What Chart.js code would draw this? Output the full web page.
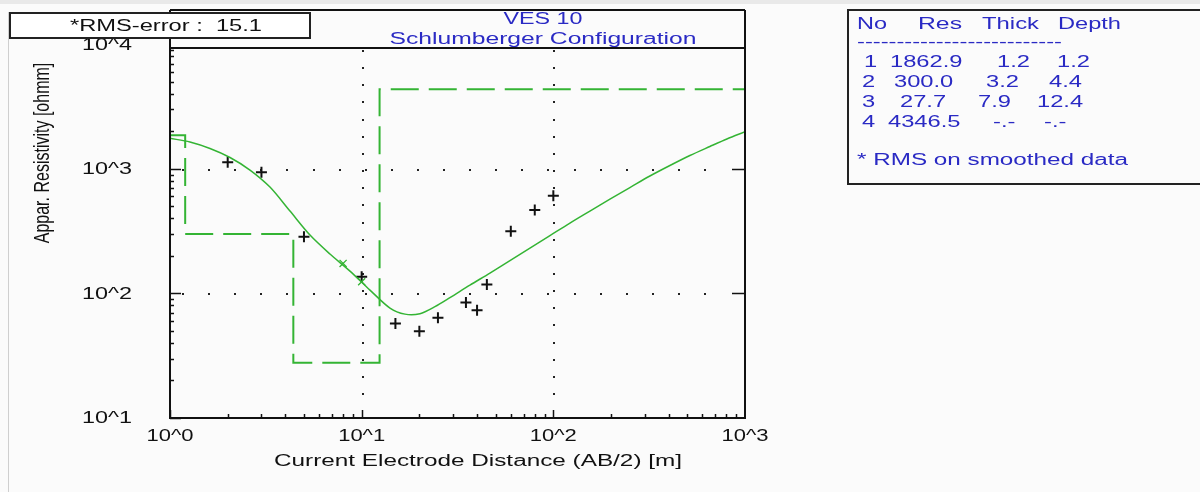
<!DOCTYPE html>
<html>
<head>
<meta charset="utf-8">
<script src="https://cdn.jsdelivr.net/npm/chart.js@4.4.1/dist/chart.umd.min.js"></script>
<style>
  html, body { margin: 0; padding: 0; background: #fbfbfb; }
  #wrap { position: absolute; left: 0; top: 0; width: 1200px; height: 492px; }
</style>
</head>
<body>
<div id="wrap"><canvas id="c" width="1200" height="492"></canvas></div>
<script>
// ---------------- DATA ----------------
const chartTitle = 'VES 10';
const chartSubtitle = 'Schlumberger Configuration';
const xAxisTitle = 'Current Electrode Distance (AB/2) [m]';
const yAxisTitle = 'Appar. Resistivity [ohmm]';
const rmsError = 15.1;

// measured apparent resistivity (black crosses)
const obsAB2 = [2, 3, 5, 10, 15, 20, 25, 35, 40, 45, 60, 80, 100];
const obsRho = [1128, 938, 285, 136, 57.4, 49.8, 63.7, 84.7, 73.4, 118, 316, 467, 608];

// smoothed data points (green x)
const smoothAB2 = [8, 10];
const smoothRho = [174, 124];

// model response curve (green line)
const modelAB2 = [1, 1.271, 1.617, 2.056, 2.614, 3.323, 4.227, 5.374, 6.833, 8.689, 11.05, 14.05, 16.82, 20.14, 24.12, 28.88, 36.72, 46.7, 59.38, 75.5, 96.0, 122.1, 155.2, 197.4, 250.9, 319.0, 405.7, 515.8, 655.9, 804.5, 1000];
const modelRho = [1758, 1642, 1456, 1233, 978, 714, 458, 294, 207, 151, 106.3, 76.2, 68.2, 68.8, 78.3, 92.5, 116.6, 145.6, 183.4, 231.1, 291.2, 367, 458, 572, 707.6, 875.5, 1063, 1279, 1511, 1736, 1986];

// layered model (table + dashed step line)
const layerNo = [1, 2, 3, 4];
const layerRes = [1862.9, 300.0, 27.7, 4346.5];
const layerThick = [1.2, 3.2, 7.9, null];
const layerDepth = [1.2, 4.4, 12.4, null];

// axes
const xMin = 1, xMax = 1000;
const yMin = 10, yMax = 9330;
const xTickValues = [1, 10, 100, 1000];
const xTickLabels = ['10^0', '10^1', '10^2', '10^3'];
const yTickValues = [10, 100, 1000, 10000];
const yTickLabels = ['10^1', '10^2', '10^3', '10^4'];
const xGridValues = [10, 100];
const yGridValues = [100, 1000];

// ---------------- BUILD ----------------
const obsPoints = obsAB2.map((x, i) => ({ x: x, y: obsRho[i] }));
const smoothPoints = smoothAB2.map((x, i) => ({ x: x, y: smoothRho[i] }));
const modelPoints = modelAB2.map((x, i) => ({ x: x, y: modelRho[i] }));
const stepPoints = [{ x: xMin, y: layerRes[0] }];
for (let i = 0; i < layerRes.length - 1; i++) {
  stepPoints.push({ x: layerDepth[i], y: layerRes[i] });
  stepPoints.push({ x: layerDepth[i], y: layerRes[i + 1] });
}
stepPoints.push({ x: xMax, y: layerRes[layerRes.length - 1] });

const GREEN = '#34b434';
const BLUE = '#2a2ac4';
const FONT = '16px "Liberation Sans", Arial, sans-serif';

function drawText(ctx, s, x, y, w, align, color, sx) {
  ctx.save();
  ctx.font = FONT;
  ctx.fillStyle = color;
  ctx.textBaseline = 'middle';
  ctx.textAlign = align;
  const m = ctx.measureText(s).width;
  const k = w ? w / m : (sx || 1.5);
  ctx.translate(x, y);
  ctx.scale(k, 1);
  ctx.fillText(s, 0, 0);
  ctx.restore();
}

const decorPlugin = {
  id: 'decor',
  beforeDraw(chart) {
    const ctx = chart.ctx;
    ctx.save();
    ctx.fillStyle = '#fbfbfb';
    ctx.fillRect(0, 0, 1200, 492);
    ctx.fillStyle = '#e9e9e9';
    ctx.fillRect(0, 0, 1200, 4);
    ctx.strokeStyle = '#cfcfcf';
    ctx.lineWidth = 1;
    ctx.beginPath(); ctx.moveTo(8.5, 12); ctx.lineTo(8.5, 492); ctx.stroke();
    ctx.restore();
  },
  beforeDatasetsDraw(chart) {
    const ctx = chart.ctx, a = chart.chartArea;
    const xs = chart.scales.x, ys = chart.scales.y;
    ctx.save();
    ctx.fillStyle = '#222';
    // horizontal dotted grid
    yGridValues.forEach(v => {
      const py = Math.round(ys.getPixelForValue(v));
      for (let px = a.left + 12; px < a.right - 16; px += 26.1) {
        ctx.fillRect(Math.round(px), py, 2, 2);
      }
    });
    // vertical dotted grid
    xGridValues.forEach(v => {
      const px = Math.round(xs.getPixelForValue(v));
      for (let py = a.top + 2; py < a.bottom - 10; py += 17.15) {
        ctx.fillRect(px, Math.round(py), 2, 2);
      }
    });
    ctx.restore();
  },
  afterDatasetsDraw(chart) {
    const ctx = chart.ctx, a = chart.chartArea;
    const xs = chart.scales.x, ys = chart.scales.y;
    ctx.save();
    ctx.strokeStyle = '#111';
    ctx.lineWidth = 2;
    // plot frame + title frame
    ctx.beginPath();
    ctx.moveTo(a.left, 10); ctx.lineTo(a.right, 10);
    ctx.moveTo(a.left, 10); ctx.lineTo(a.left, a.bottom);
    ctx.lineTo(a.right, a.bottom); ctx.lineTo(a.right, 10);
    ctx.moveTo(a.left, a.top); ctx.lineTo(a.right, a.top);
    ctx.stroke();
    // left axis ticks
    ctx.lineWidth = 1.5;
    ctx.beginPath();
    for (let e = 1; e <= 3; e++) {
      for (let m = 1; m <= 9; m++) {
        const v = m * Math.pow(10, e);
        if (v > yMax) continue;
        const py = Math.round(ys.getPixelForValue(v)) + 0.5;
        const len = m === 1 ? 11 : 4;
        ctx.moveTo(a.left, py); ctx.lineTo(a.left + len, py);
      }
    }
    // right axis major ticks
    yGridValues.forEach(v => {
      const py = Math.round(ys.getPixelForValue(v)) + 0.5;
      ctx.moveTo(a.right, py); ctx.lineTo(a.right - 13, py);
    });
    // bottom axis ticks
    for (let e = 0; e <= 2; e++) {
      for (let m = 1; m <= 9; m++) {
        const v = m * Math.pow(10, e);
        const px = Math.round(xs.getPixelForValue(v)) + 0.5;
        const len = m === 1 ? 8 : 4;
        ctx.moveTo(px, a.bottom); ctx.lineTo(px, a.bottom - len);
      }
    }
    ctx.stroke();

    // tick labels
    yTickValues.forEach((v, i) => {
      drawText(ctx, yTickLabels[i], 132, ys.getPixelForValue(v) + 1, 50, 'right', '#111');
    });
    xTickValues.forEach((v, i) => {
      drawText(ctx, xTickLabels[i], xs.getPixelForValue(v), 437, 47, 'center', '#111');
    });
    // axis titles
    drawText(ctx, xAxisTitle, 274, 462, 408, 'left', '#111');
    ctx.save();
    ctx.font = FONT;
    ctx.fillStyle = '#111';
    ctx.textAlign = 'center';
    ctx.textBaseline = 'middle';
    ctx.translate(43, 153);
    ctx.scale(1.4, 1);
    ctx.rotate(-Math.PI / 2);
    ctx.fillText(yAxisTitle, 0, 0);
    ctx.restore();

    // title
    drawText(ctx, chartTitle, 543, 20, 79, 'center', BLUE);
    drawText(ctx, chartSubtitle, 543, 40, 307, 'center', BLUE);

    // RMS box
    ctx.fillStyle = '#ffffff';
    ctx.fillRect(10, 13, 300, 25);
    ctx.strokeStyle = '#222';
    ctx.lineWidth = 2;
    ctx.strokeRect(10, 13, 300, 25);
    drawText(ctx, '*RMS-error :  ' + rmsError.toFixed(1), 70, 27, 192, 'left', '#111');

    // layer table box
    ctx.strokeStyle = '#222';
    ctx.lineWidth = 2;
    ctx.strokeRect(848, 10, 400, 174);
    const hdr = [['No', 857, 30], ['Res', 918, 44], ['Thick', 982, 57], ['Depth', 1058, 63]];
    hdr.forEach(h => drawText(ctx, h[0], h[1], 25, h[2], 'left', BLUE));
    drawText(ctx, '--------------------------', 857, 43, 205, 'left', BLUE);
    const rowY = [63, 83, 103, 123];
    const colX = [
      [864, 890, 997, 1057],
      [862, 894, 986, 1049],
      [862, 900, 978, 1037],
      [862, 888, 993, 1044]
    ];
    layerNo.forEach((n, i) => {
      const cells = [
        String(n),
        layerRes[i].toFixed(1),
        layerThick[i] == null ? '-.-' : layerThick[i].toFixed(1),
        layerDepth[i] == null ? '-.-' : layerDepth[i].toFixed(1)
      ];
      cells.forEach((c, j) => drawText(ctx, c, colX[i][j], rowY[i], null, 'left', BLUE, 1.48));
    });
    drawText(ctx, '* RMS on smoothed data', 857, 161, 271, 'left', BLUE);
    ctx.restore();
  }
};

new Chart(document.getElementById('c'), {
  type: 'scatter',
  data: {
    datasets: [
      {
        label: 'Layer model',
        type: 'line',
        data: stepPoints,
        borderColor: GREEN,
        borderWidth: 2,
        borderDash: [28, 10],
        pointRadius: 0,
        tension: 0,
        fill: false
      },
      {
        label: 'Model curve',
        type: 'line',
        data: modelPoints,
        borderColor: GREEN,
        borderWidth: 1.5,
        pointRadius: 0,
        tension: 0.3,
        fill: false
      },
      {
        label: 'Smoothed',
        data: smoothPoints,
        pointStyle: 'crossRot',
        pointRadius: 5,
        borderColor: GREEN,
        backgroundColor: GREEN,
        borderWidth: 1.3
      },
      {
        label: 'Measured',
        data: obsPoints,
        pointStyle: 'cross',
        pointRadius: 5.5,
        borderColor: '#111',
        backgroundColor: '#111',
        borderWidth: 2
      }
    ]
  },
  options: {
    responsive: false,
    animation: false,
    devicePixelRatio: 1,
    layout: { padding: { left: 170, top: 48, right: 455, bottom: 74 } },
    plugins: { legend: { display: false }, tooltip: { enabled: false }, title: { display: false } },
    scales: {
      x: { type: 'logarithmic', min: xMin, max: xMax, display: false },
      y: { type: 'logarithmic', min: yMin, max: yMax, display: false }
    }
  },
  plugins: [decorPlugin]
});
</script>
</body>
</html>
